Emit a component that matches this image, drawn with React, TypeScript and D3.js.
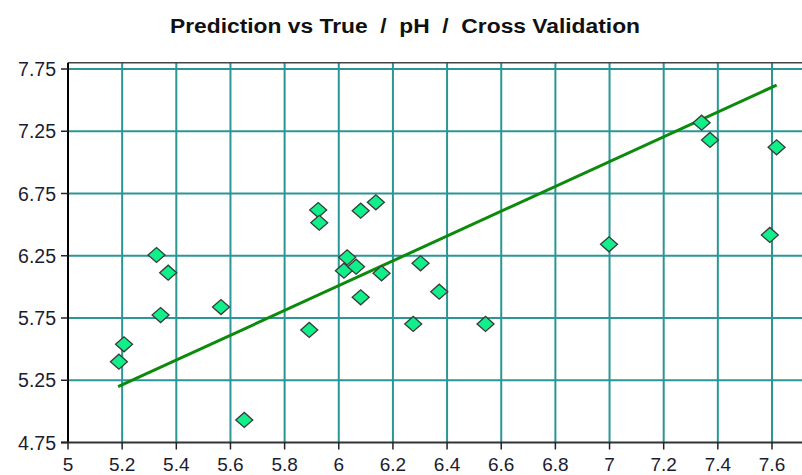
import React from 'react';
import * as d3 from 'd3';

// true pH (x) vs predicted pH (y), cross validation
const trueVals = [5.188, 5.207, 5.327, 5.37, 5.342, 5.565, 5.651, 5.891, 5.924, 5.928, 6.081, 6.137, 6.031, 6.019, 6.064, 6.158, 6.081, 6.302, 6.371, 6.275, 6.542, 6.998, 7.34, 7.371, 7.617, 7.592];
const predVals = [5.399, 5.539, 6.256, 6.114, 5.774, 5.838, 4.931, 5.654, 6.617, 6.515, 6.612, 6.679, 6.237, 6.13, 6.162, 6.109, 5.916, 6.189, 5.961, 5.702, 5.702, 6.342, 7.319, 7.18, 7.121, 6.417];

// regression line end points
const fitX = [5.185, 7.617];
const fitY = [5.198, 7.621];

const xTicks = [5, 5.2, 5.4, 5.6, 5.8, 6, 6.2, 6.4, 6.6, 6.8, 7, 7.2, 7.4, 7.6];
const xTickLabels = ['5', '5.2', '5.4', '5.6', '5.8', '6', '6.2', '6.4', '6.6', '6.8', '7', '7.2', '7.4', '7.6'];
const yTicks = [4.75, 5.25, 5.75, 6.25, 6.75, 7.25, 7.75];
const yTickLabels = ['4.75', '5.25', '5.75', '6.25', '6.75', '7.25', '7.75'];

const title = 'Prediction vs True  /  pH  /  Cross Validation';

const App: React.FC = () => {
  const width = 802;
  const height = 475;
  const left = 68;
  const right = 802;
  const bottom = 442.5;

  const x = d3.scaleLinear().domain([5, 7.6]).range([left, 772]);
  const y = d3.scaleLinear().domain([4.75, 7.75]).range([bottom, 69]);
  const top = y(7.8);

  const grid = '#2a9696';
  const font = '"Liberation Sans", Arial, sans-serif';

  const fitLine = d3.line<number>().x(d => x(fitX[d])).y(d => y(fitY[d]));

  return (
    <svg width={width} height={height} style={{ position: 'absolute', left: 0, top: 0, background: '#fff' }}>
      <rect x={0} y={0} width={width} height={height} fill="#fff" />
      <text
        x={405}
        y={33}
        textAnchor="middle"
        fontFamily={font}
        fontWeight="bold"
        fontSize={20}
        textLength={470}
        lengthAdjust="spacingAndGlyphs"
        fill="#111"
        style={{ whiteSpace: 'pre' }}
      >
        {title}
      </text>

      <g className="grid">
        {xTicks.filter(t => t > 5).map(t => (
          <line key={`gx-${t}`} x1={x(t)} x2={x(t)} y1={top} y2={bottom} stroke={grid} strokeWidth={2} />
        ))}
        {yTicks.filter(t => t > 4.75).map(t => (
          <line key={`gy-${t}`} x1={left} x2={right} y1={y(t)} y2={y(t)} stroke={grid} strokeWidth={2} />
        ))}
      </g>

      {/* frame */}
      <line x1={left} x2={right} y1={top} y2={top} stroke="#444" strokeWidth={1.5} />
      <line x1={left} x2={left} y1={top} y2={bottom} stroke="#000" strokeWidth={2} />
      <line x1={left - 7} x2={right} y1={bottom} y2={bottom} stroke="#333" strokeWidth={2} />

      <g className="y-axis">
        {yTicks.map((t, i) => (
          <g key={`yt-${t}`}>
            <line x1={left - 7} x2={left} y1={y(t)} y2={y(t)} stroke="#222" strokeWidth={1.5} />
            <text x={56} y={y(t) + 7} textAnchor="end" fontFamily={font} fontSize={19.5} fill="#1c1c30">
              {yTickLabels[i]}
            </text>
          </g>
        ))}
      </g>

      <g className="x-axis">
        {xTicks.map((t, i) => (
          <g key={`xt-${t}`}>
            <line x1={x(t)} x2={x(t)} y1={bottom} y2={bottom + 7} stroke="#222" strokeWidth={1.5} />
            <text x={x(t)} y={471} textAnchor="middle" fontFamily={font} fontSize={19} fill="#1c1c30">
              {xTickLabels[i]}
            </text>
          </g>
        ))}
      </g>

      <path d={fitLine([0, 1]) || ''} fill="none" stroke="#0b8a0b" strokeWidth={3} />

      <g className="points">
        {trueVals.map((tv, i) => (
          <path
            key={`p-${i}`}
            d="M -8.5 0 L 0 -7.5 L 8.5 0 L 0 7.5 Z"
            transform={`translate(${x(tv)}, ${y(predVals[i])})`}
            fill="#10ef8a"
            stroke="#3a3a3a"
            strokeWidth={1.3}
          />
        ))}
      </g>
    </svg>
  );
};

export default App;
